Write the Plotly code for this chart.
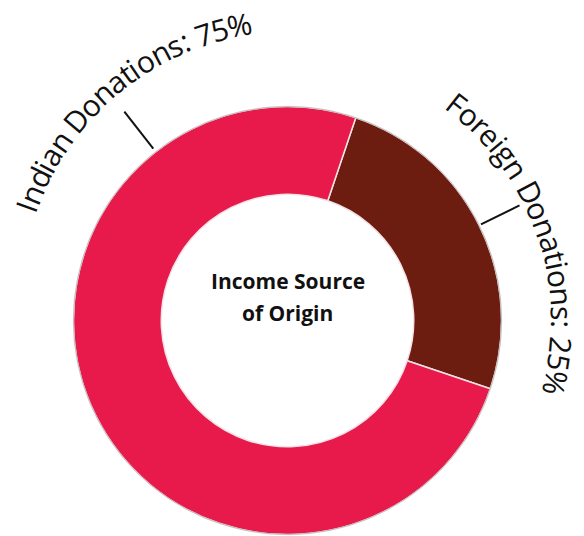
import math
import plotly.graph_objects as go

W, H = 584, 536

# Data
sources = ["Foreign Donations", "Indian Donations"]
shares = [25, 75]
colors = ["#6d1d10", "#e8194b"]
center_title = ["Income Source", "of Origin"]

# Donut geometry in pixels
CX, CY, R = 287.5, 320.5, 214.0
HOLE = 0.59
FOREIGN_MID = 63.6  # angle (deg, clockwise from 12 o'clock) of the foreign slice centre


def px(x):
    return x / W


def py(y):
    return 1 - y / H


def polar(cx, cy, r, deg):
    a = math.radians(deg)
    return cx + r * math.sin(a), cy - r * math.cos(a)


total = sum(shares)
rotation = FOREIGN_MID - shares[0] / total * 360 / 2

fig = go.Figure(
    go.Pie(
        labels=sources,
        values=shares,
        sort=False,
        direction="clockwise",
        rotation=rotation,
        hole=HOLE,
        marker=dict(colors=colors, line=dict(color="#f3e3e6", width=1.5)),
        textinfo="none",
        hoverinfo="label+percent",
        showlegend=False,
        domain=dict(x=[px(CX - R), px(CX + R)], y=[py(CY + R), py(CY - R)]),
    )
)

# thin grey rim round the outside of the ring
fig.add_shape(
    type="circle", xref="paper", yref="paper",
    x0=px(CX - R), x1=px(CX + R), y0=py(CY + R), y1=py(CY - R),
    line=dict(color="#bcbcbc", width=1),
)

# approximate Open Sans advance widths (em)
ADV = {
    "I": 0.295, "n": 0.614, "d": 0.613, "i": 0.253, "a": 0.556, " ": 0.26,
    "D": 0.716, "o": 0.604, "t": 0.351, "s": 0.487, ":": 0.266, "7": 0.572,
    "5": 0.572, "2": 0.572, "%": 0.827, "F": 0.526, "r": 0.408, "e": 0.561,
    "g": 0.548,
}

LABEL_FONT = dict(family="Open Sans", size=30, weight=500, color="#111111")


def arc_text(text, cx, cy, r, a0, a1):
    """Lay characters along a circular arc, first centre at a0, last at a1."""
    pos, acc = [], 0.0
    for ch in text:
        w = ADV.get(ch, 0.56)
        pos.append(acc + w / 2)
        acc += w
    p0, p1 = pos[0], pos[-1]
    for ch, p in zip(text, pos):
        if ch == " ":
            continue
        t = a0 + (a1 - a0) * (p - p0) / (p1 - p0)
        x, y = polar(cx, cy, r, t)
        fig.add_annotation(
            x=px(x), y=py(y), xref="paper", yref="paper",
            text=ch, showarrow=False, textangle=t,
            xanchor="center", yanchor="middle", font=LABEL_FONT,
        )


arc_text(f"{sources[1]}: {shares[1]}%", 291, 301, 281, -70.4, -10.5)
arc_text(f"{sources[0]}: {shares[0]}%", 287.5, 320.5, 275, 37.9, 103.1)

# short leader ticks from the labels to the ring
for ang, r1, r2 in [(-38.0, 218, 265), (63.6, 216, 259)]:
    x1, y1 = polar(CX, CY, r1, ang)
    x2, y2 = polar(CX, CY, r2, ang)
    fig.add_shape(
        type="line", xref="paper", yref="paper",
        x0=px(x1), y0=py(y1), x1=px(x2), y1=py(y2),
        line=dict(color="#111111", width=2),
    )

# centre caption
for i, line in enumerate(center_title):
    fig.add_annotation(
        x=px(CX), y=py(281 + 32 * i), xref="paper", yref="paper",
        text=f"<b>{line}</b>", showarrow=False,
        xanchor="center", yanchor="middle",
        font=dict(family="Open Sans", size=21, color="#111111"),
    )

fig.update_layout(
    width=W, height=H,
    margin=dict(l=0, r=0, t=0, b=0),
    paper_bgcolor="white", plot_bgcolor="white",
)

fig.write_html("out.html")
